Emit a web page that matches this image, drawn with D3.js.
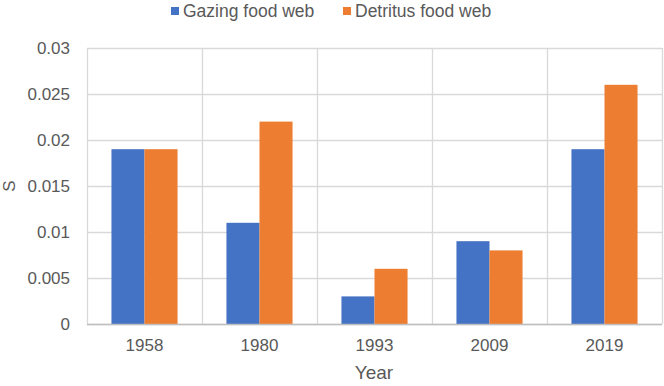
<!DOCTYPE html>
<html>
<head>
<meta charset="utf-8">
<script src="https://d3js.org/d3.v7.min.js"></script>
<style>
  body { margin: 0; background: #fff; }
  text { font-family: "Liberation Sans", Arial, sans-serif; fill: #595959; }
</style>
</head>
<body>
<script>
  const years = ["1958", "1980", "1993", "2009", "2019"];
  const seriesNames = ["Gazing food web", "Detritus food web"];
  const gazing = [0.019, 0.011, 0.003, 0.009, 0.019];
  const detritus = [0.019, 0.022, 0.006, 0.008, 0.026];
  const yTicks = [0, 0.005, 0.01, 0.015, 0.02, 0.025, 0.03];
  const colors = ["#4472C4", "#ED7D31"];

  const width = 664, height = 386;
  const margin = {top: 48, right: 2, bottom: 62, left: 87};

  const svg = d3.select("body").append("svg")
    .attr("width", width)
    .attr("height", height);

  const x = d3.scaleBand().domain(years).range([margin.left, width - margin.right]).padding(0);
  const inner = d3.scaleBand().domain(seriesNames).range([0, x.bandwidth()]).paddingInner(0).paddingOuter(0.74);
  const y = d3.scaleLinear().domain([0, 0.03]).range([height - margin.bottom, margin.top]);

  // horizontal grid
  svg.append("g").selectAll("line").data(yTicks).join("line")
    .attr("x1", margin.left).attr("x2", width - margin.right)
    .attr("y1", d => Math.round(y(d)) + 0.5).attr("y2", d => Math.round(y(d)) + 0.5)
    .attr("stroke", "#d9d9d9").attr("stroke-width", 1.3);

  // vertical grid at category boundaries
  const bounds = years.map(d => x(d)).concat([x(years[years.length - 1]) + x.bandwidth()]);
  svg.append("g").selectAll("line").data(bounds).join("line")
    .attr("x1", d => Math.round(d) + 0.5).attr("x2", d => Math.round(d) + 0.5)
    .attr("y1", margin.top).attr("y2", height - margin.bottom)
    .attr("stroke", "#d9d9d9").attr("stroke-width", 1.3);

  // bars
  const rows = years.map((yr, i) => ({year: yr, values: [gazing[i], detritus[i]]}));
  const groups = svg.append("g").selectAll("g").data(rows).join("g")
    .attr("transform", d => `translate(${x(d.year)},0)`);
  groups.selectAll("rect").data(d => d.values.map((v, j) => ({name: seriesNames[j], v, j}))).join("rect")
    .attr("x", d => inner(d.name))
    .attr("width", inner.bandwidth())
    .attr("y", d => y(d.v))
    .attr("height", d => y(0) - y(d.v))
    .attr("fill", d => colors[d.j]);

  // bottom axis line
  svg.append("line")
    .attr("x1", margin.left).attr("x2", width - margin.right)
    .attr("y1", y(0) + 0.5).attr("y2", y(0) + 0.5)
    .attr("stroke", "#bfbfbf").attr("stroke-width", 1.3);

  // y axis
  const yAxis = d3.axisLeft(y).tickValues(yTicks).tickSize(0).tickPadding(17)
    .tickFormat(d => d === 0 ? "0" : String(+d.toFixed(3)));
  const ya = svg.append("g").attr("transform", `translate(${margin.left},0)`).call(yAxis);
  ya.select(".domain").remove();
  ya.selectAll("text").attr("font-size", 17).style("font-family", "'Liberation Sans', Arial, sans-serif").attr("fill", "#595959");

  // x axis
  const xAxis = d3.axisBottom(x).tickSize(0).tickPadding(15);
  const xa = svg.append("g").attr("transform", `translate(0,${y(0)})`).call(xAxis);
  xa.select(".domain").remove();
  xa.selectAll("text").attr("font-size", 17).style("font-family", "'Liberation Sans', Arial, sans-serif").attr("fill", "#595959");

  // axis titles
  svg.append("text").attr("x", 374).attr("y", 379)
    .attr("text-anchor", "middle").attr("font-size", 19).text("Year");
  svg.append("text").attr("transform", `translate(15,${y(0.015)}) rotate(-90)`)
    .attr("text-anchor", "middle").attr("font-size", 17).text("S");

  // legend
  const legendX = [171, 343];
  const lg = svg.append("g").selectAll("g").data(seriesNames).join("g")
    .attr("transform", (d, i) => `translate(${legendX[i]},0)`);
  lg.append("rect").attr("width", 8).attr("height", 8).attr("y", 7).attr("fill", (d, i) => colors[i]);
  lg.append("text").attr("x", 12).attr("y", 17).attr("font-size", 17.5).text(d => d);
</script>
</body>
</html>
